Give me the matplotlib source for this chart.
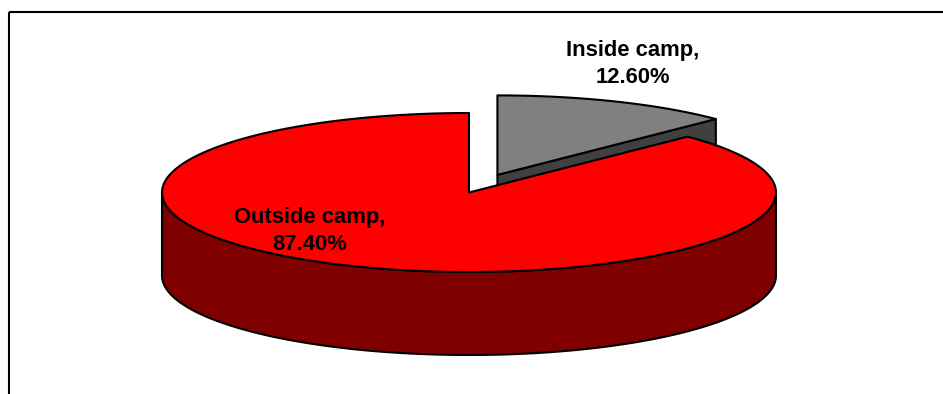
import numpy as np
import matplotlib
matplotlib.use("Agg")
import matplotlib.pyplot as plt
from matplotlib.patches import Polygon

# Data
categories = ["Inside camp", "Outside camp"]
values = [12.6, 87.4]
explode = [0.24, 0.0]

top_colors = ["#808080", "#ff0000"]
side_colors = ["#404040", "#800000"]

plt.rcParams["font.family"] = ["Liberation Sans", "DejaVu Sans"]

W, H = 943, 394
fig = plt.figure(figsize=(W / 100, H / 100), dpi=100)
ax = fig.add_axes([0, 0, 1, 1])
ax.set_xlim(0, W)
ax.set_ylim(H, 0)
ax.axis("off")

# Projected pie geometry (pixel space)
cx, cy = 469.0, 192.5
a, b = 307.0, 79.5
depth = 83.0
lw = 1.5


def pt(theta_deg, ox=0.0, oy=0.0, z=0.0, r=1.0):
    t = np.radians(theta_deg)
    return (cx + ox + a * r * np.cos(t), cy + oy - b * r * np.sin(t) + z)


def arc(t0, t1, ox=0.0, oy=0.0, z=0.0, n=200):
    ts = np.linspace(t0, t1, n)
    return [pt(t, ox, oy, z) for t in ts]


total = sum(values)
# Slices run clockwise from 12 o'clock
bounds = []
start = 90.0
for v in values:
    end = start - 360.0 * v / total
    bounds.append((start, end))
    start = end

offsets = []
for (s, e), ex in zip(bounds, explode):
    mid = np.radians((s + e) / 2)
    offsets.append((ex * a * np.cos(mid), -ex * b * np.sin(mid)))

# --- Inside camp slice (exploded, behind) ---
(s0, e0), (ox0, oy0) = bounds[0], offsets[0]
apex0 = (cx + ox0, cy + oy0)
tip0 = pt(e0, ox0, oy0)
cut_face = [apex0, tip0, (tip0[0], tip0[1] + depth), (apex0[0], apex0[1] + depth)]
ax.add_patch(Polygon(cut_face, closed=True, facecolor=side_colors[0],
                     edgecolor="black", lw=lw, joinstyle="round", zorder=1))
top0 = [apex0] + arc(s0, e0, ox0, oy0)
ax.add_patch(Polygon(top0, closed=True, facecolor=top_colors[0],
                     edgecolor="black", lw=lw, joinstyle="round", zorder=2))

# --- Outside camp slice ---
(s1, e1), (ox1, oy1) = bounds[1], offsets[1]
wall = arc(-180, 0, ox1, oy1) + arc(0, -180, ox1, oy1, z=depth)
ax.add_patch(Polygon(wall, closed=True, facecolor=side_colors[1],
                     edgecolor="black", lw=lw, joinstyle="round", zorder=3))
apex1 = (cx + ox1, cy + oy1)
top1 = [apex1] + arc(s1, e1, ox1, oy1)
ax.add_patch(Polygon(top1, closed=True, facecolor=top_colors[1],
                     edgecolor="black", lw=lw, joinstyle="round", zorder=4))

# Data labels
label_pos = [(633, 64), (310, 231)]
for cat, val, (lx, ly) in zip(categories, values, label_pos):
    ax.text(lx, ly, f"{cat},\n{val:.2f}%", ha="center", va="center",
            fontsize=15.8, fontweight="bold", color="black",
            linespacing=1.32, zorder=10)

# Chart area border (top and left edges)
ax.plot([9, W], [12, 12], color="black", lw=1.5, solid_capstyle="butt", zorder=20)
ax.plot([9, 9], [12, H], color="black", lw=1.5, solid_capstyle="butt", zorder=20)

fig.savefig("out.png", dpi=100)
